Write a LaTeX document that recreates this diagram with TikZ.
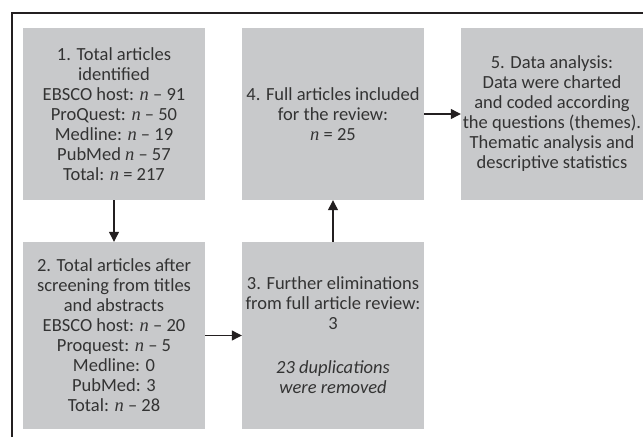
\documentclass[tikz,border=0pt]{standalone}
\usepackage{fontspec}
\setmainfont{Carlito}
\newfontfamily\nserif{Liberation Serif}
\usetikzlibrary{arrows.meta}
\definecolor{boxgray}{HTML}{C8C9CB}
\definecolor{inkgray}{HTML}{333333}
\definecolor{linegray}{HTML}{231F20}
\newcommand{\nn}{{\nserif\itshape n}}
\begin{document}
\begin{tikzpicture}[x=1pt,y=1pt,
  flowbox/.style={fill=boxgray, draw=none, inner sep=0pt, text=inkgray,
    minimum width=182pt, align=center,
    font=\fontsize{18.5}{20}\selectfont},
  toprow/.style={flowbox, minimum height=172pt},
  botrow/.style={flowbox, minimum height=187pt},
  flowarrow/.style={draw=linegray, line width=1.2pt,
    -{Triangle[length=10pt,width=10pt]}},
  framestyle/.style={draw=linegray, line width=1.1pt}]
\useasboundingbox (0,0) rectangle (643,437);
\coordinate (fa) at (12,0);
\coordinate (fb) at (12,424);
\coordinate (fc) at (643,424);
\draw[framestyle] (fa) -- (fb) -- (fc);

\node[toprow] (b1) at (114,323) {1. Total articles\\identified\\EBSCO host: \nn{} – 91\\ProQuest: \nn{} – 50\\Medline: \nn{} – 19\\PubMed \nn{} – 57\\Total: \nn{} = 217};
\node[botrow] (b2) at (114,101.5) {2. Total articles after\\screening from titles\\and abstracts\\EBSCO host: \nn{} – 20\\Proquest: \nn{} – 5\\Medline: 0\\PubMed: 3\\Total: \nn{} – 28};
\node[botrow] (b3) at (333,101.5) {3. Further eliminations\\from full article review:\\3\\[24pt]\itshape 23 duplications\\\itshape were removed};
\node[toprow] (b4) at (333,323) {4. Full articles included\\for the review:\\\nn{} = 25};
\node[toprow] (b5) at (552,323) {5. Data analysis:\\Data were charted\\and coded according\\the questions (themes).\\Thematic analysis and\\descriptive statistics};

\draw[flowarrow] (b1) -- (b2);
\draw[flowarrow] (b2) -- (b3);
\draw[flowarrow] (b3) -- (b4);
\draw[flowarrow] (b4) -- (b5);
\end{tikzpicture}
\end{document}
